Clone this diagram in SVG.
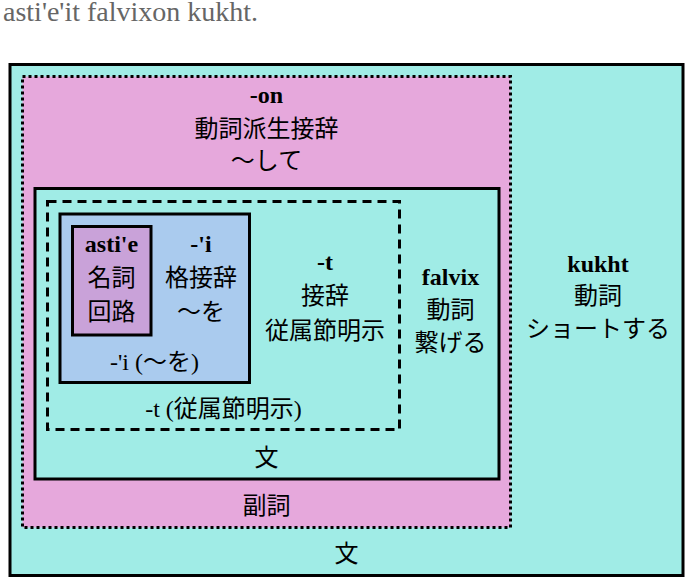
<svg xmlns="http://www.w3.org/2000/svg" width="688" height="583" viewBox="0 0 688 583">
<style>
.t{font-family:"Liberation Serif","Noto Sans CJK JP",serif;font-size:24px;fill:#000;text-anchor:middle}
.b{font-weight:bold}
.box{stroke:#000;stroke-width:3}
.dot{stroke-dasharray:3 3}
.dash{stroke-dasharray:9 6}
.cyan{fill:#a0ece6}
.pink{fill:#e6a8dc}
.blue{fill:#aacbee}
.purple{fill:#c9a2d9}
.title{font-family:"Liberation Serif","Noto Sans CJK JP",serif;font-size:28px;fill:#666}
</style>
<rect width="688" height="583" fill="#fff"/>
<text class="title" x="3" y="21">asti'e'it falvixon kukht.</text>
<g id="sentence-outer">
<rect class="box cyan" x="10" y="64.5" width="673" height="511"/>
<text class="t b" x="598" y="272">kukht</text>
<text class="t" x="598" y="304">動詞</text>
<text class="t" x="598" y="337">ショートする</text>
<text class="t" x="346.5" y="562">文</text>
</g>
<g id="adverb-on">
<rect class="box pink dot" x="22.5" y="76.5" width="488" height="451"/>
<text class="t b" x="266.5" y="103">-on</text>
<text class="t" x="266.5" y="137">動詞派生接辞</text>
<text class="t" x="266.5" y="169">〜して</text>
<text class="t" x="266.5" y="514">副詞</text>
</g>
<g id="sentence-inner">
<rect class="box cyan" x="35" y="188.5" width="464" height="290.5"/>
<text class="t b" x="450.5" y="285">falvix</text>
<text class="t" x="450.5" y="318">動詞</text>
<text class="t" x="450.5" y="351">繋げる</text>
<text class="t" x="266.5" y="466">文</text>
</g>
<g id="clause-t">
<rect class="box cyan dash" x="47.5" y="201.5" width="352" height="228"/>
<text class="t b" x="325" y="270">-t</text>
<text class="t" x="325" y="304">接辞</text>
<text class="t" x="325" y="339">従属節明示</text>
<text class="t" x="223.5" y="417">-t (従属節明示)</text>
</g>
<g id="case-i">
<rect class="box blue" x="60" y="214" width="189.5" height="168.5"/>
<text class="t b" x="201" y="251.5">-'i</text>
<text class="t" x="201" y="286">格接辞</text>
<text class="t" x="201" y="320">〜を</text>
<text class="t" x="154.5" y="370">-'i (〜を)</text>
</g>
<g id="noun-astie">
<rect class="box purple" x="72.5" y="226.5" width="78.5" height="108.5"/>
<text class="t b" x="111.5" y="251.5">asti'e</text>
<text class="t" x="111.5" y="286">名詞</text>
<text class="t" x="111.5" y="320">回路</text>
</g>
<g id="connectors"/>
</svg>
